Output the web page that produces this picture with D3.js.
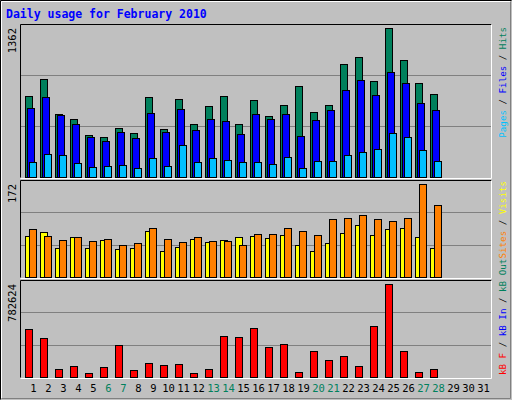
<!DOCTYPE html><html><head><meta charset="utf-8"><script src="https://cdn.jsdelivr.net/npm/d3@7"></script>
<style>body{margin:0;background:#fff}</style></head><body><svg id="c" width="512" height="400"></svg><script>
const days=d3.range(1,32);
const weekend=[6,7,13,14,20,21,27,28];
const hits=[740,898,573,526,387,368,452,405,730,443,712,489,647,740,480,703,554,656,833,591,656,1037,1093,879,1362,1065,860,758];
const files=[628,730,563,489,368,331,415,359,582,415,619,433,526,508,396,573,526,573,378,517,610,795,888,749,963,860,675,610];
const pages=[136,210,201,127,90,99,108,80,173,99,294,136,173,155,136,136,118,183,80,145,145,201,229,257,405,368,248,145];
const visits=[76,84,54,74,54,69,52,54,86,48,56,71,65,69,74,76,73,78,59,48,63,82,97,78,88,91,74,54];
const sites=[89,76,69,74,67,71,59,63,91,71,65,74,67,67,59,80,80,91,86,78,108,110,114,108,103,110,172,134];
const kbytes=[405600,328400,71400,88500,37100,80000,268500,62800,114200,97100,105700,37100,71400,345600,337000,414100,251300,277000,45700,217100,139900,174200,88500,431300,782624,217100,45700,71400];
const maxLabels=["1362","172","782624"];
const title="Daily usage for February 2010";
const svg=d3.select("#c");
const F="'DejaVu Sans Mono',monospace";
svg.append("rect").attr("width",512).attr("height",400).attr("fill","#c0c0c0");
svg.append("path").attr("d","M0.5,399.5V0.5H511.5").attr("stroke","#000").attr("fill","none");
svg.append("path").attr("d","M1.5,398.5V1.5H510.5").attr("stroke","#fff").attr("fill","none");
svg.append("path").attr("d","M1.5,398.5H510.5V1.5").attr("stroke","#808080").attr("fill","none");
svg.append("text").attr("x",6).attr("y",18).attr("fill","#0000ff").attr("font-family",F).attr("font-weight","bold").attr("font-size",11.5).text(title);
const x=d3.scaleBand().domain(days).range([26,491]);
const panels=[{y0:24,y1:177},{y0:180,y1:277},{y0:280,y1:377}];
panels.forEach(p=>{
  svg.append("rect").attr("x",20.5).attr("y",p.y0+0.5).attr("width",471).attr("height",p.y1-p.y0).attr("fill","#c0c0c0");
  svg.append("path").attr("d",`M20.5,${p.y1+0.5}V${p.y0+0.5}H491.5`).attr("stroke","#000").attr("fill","none");
  svg.append("path").attr("d",`M20.5,${p.y1+1.5}H491.5V${p.y0+0.5}`).attr("stroke","#fff").attr("fill","none");
});
function grid(p){const h=p.y1-p.y0;[1,2].forEach(i=>{const yy=Math.round(p.y0+h*i/3)+0.5;svg.append("line").attr("x1",21).attr("x2",491).attr("y1",yy).attr("y2",yy).attr("stroke","#808080");});}
panels.forEach(grid);
function bars(data,max,p,off,w,color){
  const y=d3.scaleLinear().domain([0,max]).range([p.y1,p.y0+4]);
  svg.append("g").selectAll("rect").data(data).join("rect")
   .attr("x",(d,i)=>x(i+1)+off+0.5).attr("y",d=>Math.round(y(d))+0.5).attr("width",w).attr("height",d=>Math.max(0,p.y1-Math.round(y(d))))
   .attr("fill",color).attr("stroke","#000");
}
bars(hits,1362,panels[0],-1,7,"#00805c");
bars(files,1362,panels[0],1,7,"#0000ff");
bars(pages,1362,panels[0],3,7,"#00c0ff");
bars(visits,172,panels[1],-1,7,"#ffff00");
bars(sites,172,panels[1],3,7,"#ff8000");
bars(kbytes,782624,panels[2],-1,7,"#ff0000");
panels.forEach((p,i)=>{
  svg.append("text").attr("transform",`translate(16,${p.y0+4}) rotate(-90)`).attr("text-anchor","end").attr("font-family",F).attr("font-size",10.5).attr("fill","#000").text(maxLabels[i]);
});
const rl=[[["Pages","#00c0ff"],[" / ","#000"],["Files","#0000ff"],[" / ","#000"],["Hits","#00805c"]],
[["Sites","#ff8000"],[" / ","#000"],["Visits","#ffff00"]],
[["kB F","#ff0000"],[" / ","#000"],["kB In","#0000ff"],[" / ","#000"],["kB Out","#00805c"]]];
const anchors=[["end",27],["end",181],["start",375]];
panels.forEach((p,i)=>{
  const t=svg.append("text").attr("transform",`translate(506,${anchors[i][1]}) rotate(-90)`).attr("text-anchor",anchors[i][0]).attr("font-family",F).attr("font-size",9.2);
  rl[i].forEach(s=>t.append("tspan").attr("fill",s[1]).text(s[0]));
});
svg.append("g").selectAll("text").data(days).join("text").attr("x",d=>x(d)+x.bandwidth()/2).attr("y",392).attr("text-anchor","middle")
 .attr("font-family",F).attr("font-size",10.5).attr("fill",d=>weekend.includes(d)?"#00805c":"#000").text(d=>d);
</script></body></html>
